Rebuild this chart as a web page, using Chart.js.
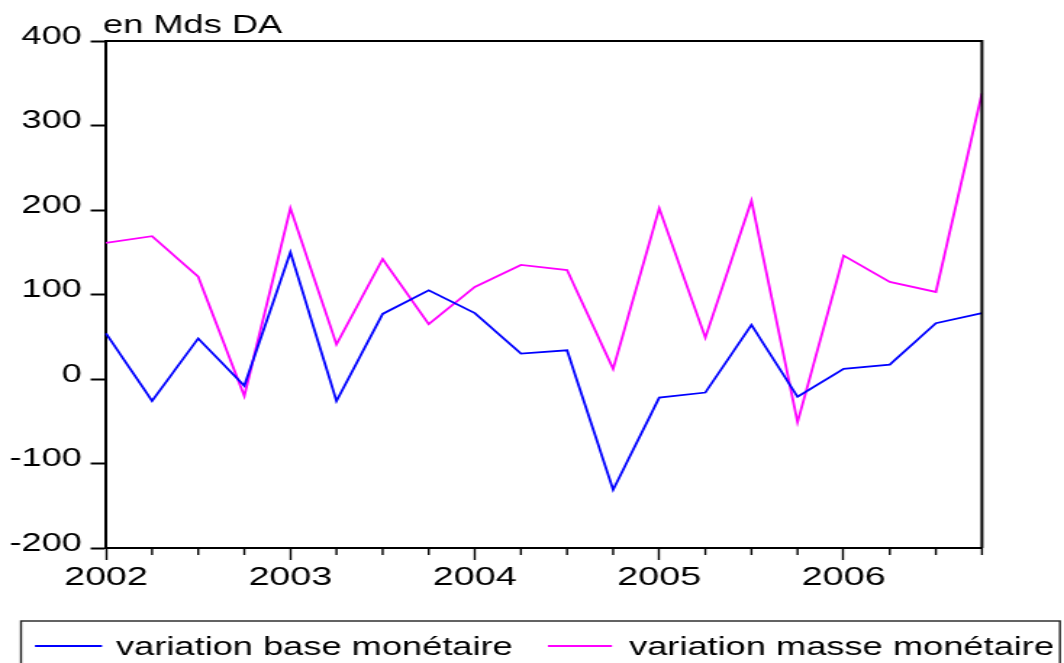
<!DOCTYPE html>
<html>
<head>
<meta charset="utf-8">
<script src="https://cdn.jsdelivr.net/npm/chart.js@4/dist/chart.umd.min.js"></script>
<style>
  html, body { margin: 0; padding: 0; background: #fff; overflow: hidden; }
  /* the original graph is stretched horizontally, so draw narrow and scale */
  #wrap { width: 734px; height: 663px; transform: scaleX(1.4496); transform-origin: 0 0; }
</style>
</head>
<body>
<div id="wrap"><canvas id="chart"></canvas></div>
<script>
const years = ['2002', '2003', '2004', '2005', '2006'];
const quarters = ['T1', 'T2', 'T3', 'T4'];
const baseMonetaire = [54, -26, 48, -8, 150, -26, 77, 105, 78, 30, 34, -131, -22, -16, 64, -21, 12, 17, 66, 78];
const masseMonetaire = [161, 169, 121, -20, 202, 41, 142, 65, 109, 135, 129, 12, 202, 49, 211, -51, 146, 115, 103, 338];
const yTicks = [-200, -100, 0, 100, 200, 300, 400];
const unitLabel = 'en Mds DA';

const labels = [];
years.forEach(y => quarters.forEach(q => labels.push(q + ' ' + y)));

const FONT = '"Liberation Sans", Arial, sans-serif';

const framePlugin = {
    id: 'frame',
    afterDraw(chart) {
        const { ctx, chartArea: a } = chart;
        const xs = chart.scales.x;
        ctx.save();
        ctx.strokeStyle = '#000';
        ctx.lineWidth = 2;
        ctx.beginPath();
        ctx.moveTo(a.left, a.top);
        ctx.lineTo(a.right, a.top);
        ctx.lineTo(a.right, a.bottom);
        ctx.stroke();
        // minor (quarter) ticks
        ctx.lineWidth = 1.4;
        for (let i = 0; i < labels.length; i++) {
            if (i % 4 === 0) continue;
            const x = xs.getPixelForTick(i);
            ctx.beginPath();
            ctx.moveTo(x, a.bottom);
            ctx.lineTo(x, a.bottom + 7);
            ctx.stroke();
        }
        // unit label
        ctx.fillStyle = '#000';
        ctx.font = '25px ' + FONT;
        ctx.textBaseline = 'alphabetic';
        ctx.fillText(unitLabel, 71, 33);

        // legend box
        ctx.strokeStyle = '#222';
        ctx.lineWidth = 1.4;
        ctx.strokeRect(14.5, 621, 716.7, 60);
        const items = [
            { x0: 24.1, x1: 70.4, tx: 80 },
            { x0: 378, x1: 422.2, tx: 433.9 }
        ];
        chart.data.datasets.forEach((ds, i) => {
            const it = items[i];
            ctx.strokeStyle = ds.borderColor;
            ctx.lineWidth = 1.8;
            ctx.beginPath();
            ctx.moveTo(it.x0, 646);
            ctx.lineTo(it.x1, 646);
            ctx.stroke();
            ctx.fillStyle = '#000';
            ctx.font = '25px ' + FONT;
            ctx.fillText(ds.label, it.tx, 654.5);
        });
        ctx.restore();
    }
};

new Chart(document.getElementById('chart'), {
    type: 'line',
    data: {
        labels: labels,
        datasets: [{
            label: 'variation base monétaire',
            data: baseMonetaire,
            borderColor: '#0000ff',
            borderWidth: 1.8,
            pointRadius: 0,
            tension: 0,
            fill: false
        }, {
            label: 'variation masse monétaire',
            data: masseMonetaire,
            borderColor: '#ff00ff',
            borderWidth: 1.8,
            pointRadius: 0,
            tension: 0,
            fill: false
        }]
    },
    options: {
        responsive: true,
        maintainAspectRatio: false,
        animation: false,
        layout: { padding: { top: 41, right: 56.6, bottom: 70, left: 0 } },
        scales: {
            x: {
                type: 'category',
                offset: false,
                afterFit: (scale) => { scale.height = 45; },
                grid: {
                    display: true,
                    drawOnChartArea: false,
                    offset: false,
                    tickLength: 12,
                    tickWidth: 1.4,
                    tickColor: (c) => (c.index % 4 === 0 ? '#000' : 'rgba(0,0,0,0)')
                },
                border: { display: true, color: '#000', width: 2 },
                ticks: {
                    autoSkip: false,
                    maxRotation: 0,
                    padding: 2,
                    color: '#000',
                    font: { family: FONT, size: 26 },
                    callback: (value, index) => (index % 4 === 0 ? years[index / 4] : '')
                }
            },
            y: {
                min: yTicks[0],
                max: yTicks[yTicks.length - 1],
                afterFit: (scale) => { scale.width = 73.1; },
                afterBuildTicks: (scale) => { scale.ticks = yTicks.map(v => ({ value: v })); },
                grid: {
                    display: true,
                    drawOnChartArea: false,
                    tickLength: 10.6,
                    tickWidth: 2,
                    tickColor: '#000'
                },
                border: { display: true, color: '#000', width: 2 },
                ticks: {
                    padding: 6,
                    labelOffset: -4,
                    color: '#000',
                    font: { family: FONT, size: 25 }
                }
            }
        },
        plugins: {
            legend: { display: false },
            tooltip: { enabled: false }
        }
    },
    plugins: [framePlugin]
});
</script>
</body>
</html>
